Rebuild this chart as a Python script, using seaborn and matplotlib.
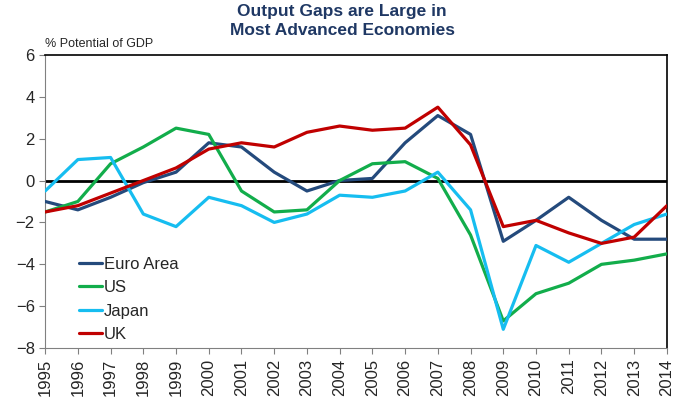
import pandas as pd
import matplotlib.pyplot as plt
import seaborn as sns

years = list(range(1995, 2015))
euro_area = [-1.0, -1.4, -0.8, -0.1, 0.4, 1.8, 1.6, 0.4, -0.5, 0.0,
             0.1, 1.8, 3.1, 2.2, -2.9, -1.9, -0.8, -1.9, -2.8, -2.8]
us = [-1.5, -1.0, 0.8, 1.6, 2.5, 2.2, -0.5, -1.5, -1.4, 0.0,
      0.8, 0.9, 0.1, -2.6, -6.7, -5.4, -4.9, -4.0, -3.8, -3.5]
japan = [-0.5, 1.0, 1.1, -1.6, -2.2, -0.8, -1.2, -2.0, -1.6, -0.7,
         -0.8, -0.5, 0.4, -1.4, -7.1, -3.1, -3.9, -3.0, -2.1, -1.6]
uk = [-1.5, -1.2, -0.6, 0.0, 0.6, 1.5, 1.8, 1.6, 2.3, 2.6,
      2.4, 2.5, 3.5, 1.7, -2.2, -1.9, -2.5, -3.0, -2.7, -1.2]

series = {'Euro Area': euro_area, 'US': us, 'Japan': japan, 'UK': uk}
colors = {'Euro Area': '#244A7C', 'US': '#12AD4B', 'Japan': '#16BDF0', 'UK': '#C00000'}

df = pd.DataFrame(series, index=years).reset_index(names='Year')
df = df.melt(id_vars='Year', var_name='Region', value_name='Gap')

sns.set_style("white")
plt.rcParams['font.family'] = ['Liberation Sans', 'DejaVu Sans']

fig = plt.figure(figsize=(6.84, 3.97), dpi=100)
ax = fig.add_axes([0.066, 0.123, 0.909, 0.739])

ax.axhline(0, color='black', lw=2, zorder=1)
sns.lineplot(data=df, x='Year', y='Gap', hue='Region', palette=colors,
             lw=2.3, ax=ax, zorder=3)

ax.set_xlim(1995, 2014)
ax.set_ylim(-8, 6)
ax.set_xticks(years)
ax.set_xticklabels([str(y) for y in years], rotation=90, fontsize=12)
ax.set_yticks(range(-8, 7, 2))
ax.tick_params(axis='y', labelsize=12, length=4, color='#808080', direction='out', left=True)
ax.tick_params(axis='x', length=4, color='#808080', direction='out', bottom=True)
ax.set_xlabel('')
ax.set_ylabel('')

for side in ['left', 'bottom']:
    ax.spines[side].set_color('#808080')
for side in ['top', 'right']:
    ax.spines[side].set_color('black')
    ax.spines[side].set_linewidth(1.2)

ax.legend(loc='lower left', bbox_to_anchor=(0.03, -0.03), frameon=False,
          fontsize=12, handlelength=1.4, handletextpad=0.1, labelspacing=0.5)

fig.text(0.066, 0.875, '% Potential of GDP', fontsize=9, ha='left', va='bottom')
fig.suptitle('Output Gaps are Large in\nMost Advanced Economies', x=0.5, y=0.99,
             fontsize=12.5, fontweight='bold', color='#1F3864', linespacing=1.35)

plt.savefig('out.png', dpi=100)
